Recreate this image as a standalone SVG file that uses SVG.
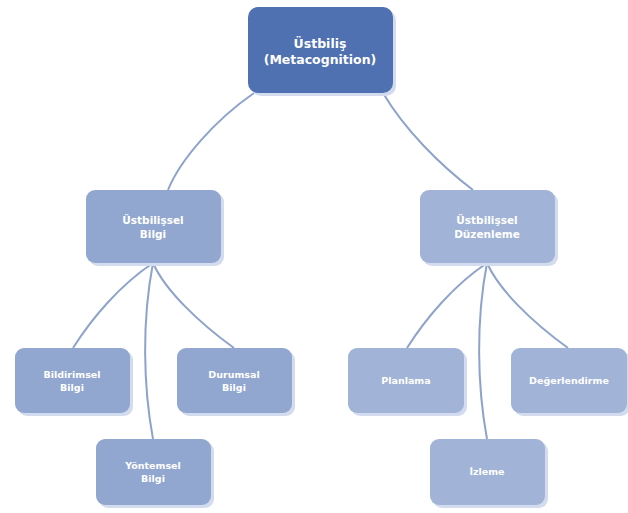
<svg xmlns="http://www.w3.org/2000/svg" width="628" height="513" viewBox="0 0 628 513">
<defs>
<style>
.sh{fill:#D3DCEF}
.root{fill:#4F70B1}
.l{fill:#92A7CF}
.r{fill:#A1B3D6}
.t{fill:#FFFFFF;font-family:"DejaVu Sans",sans-serif;font-weight:bold;text-anchor:middle}
.t1{font-size:12.5px}
.t2{font-size:10.5px}
.t3{font-size:9.5px}
.c{fill:none;stroke:#8EA3CC;stroke-width:2}
</style>
</defs>
<rect width="628" height="513" fill="#FFFFFF"/>
<g id="connectors">
<path class="c" d="M254,93 C215,120 180,160 168,190"/>
<path class="c" d="M383,93 C405,130 440,165 473,190"/>
<path class="c" d="M153,263 C120,285 92,318 73,348"/>
<path class="c" d="M153,263 C165,290 198,322 234,348"/>
<path class="c" d="M153,263 C142,320 143,385 153,439"/>
<path class="c" d="M487,263 C454,285 426,318 407,348"/>
<path class="c" d="M487,263 C499,290 532,322 568,348"/>
<path class="c" d="M487,263 C476,320 477,385 487,439"/>
</g>
<g id="root">
<rect class="sh" x="251" y="10" width="145" height="86" rx="10"/>
<rect class="root" x="248" y="7" width="145" height="86" rx="10"/>
<text class="t t1" x="320" y="48">Üstbiliş</text>
<text class="t t1" x="320" y="64">(Metacognition)</text>
</g>
<g id="ustbilissel-bilgi">
<rect class="sh" x="89" y="193" width="135" height="73" rx="9"/>
<rect class="l" x="86" y="190" width="135" height="73" rx="9"/>
<text class="t t2" x="153" y="224">Üstbilişsel</text>
<text class="t t2" x="153" y="238">Bilgi</text>
</g>
<g id="ustbilissel-duzenleme">
<rect class="sh" x="423" y="193" width="135" height="73" rx="9"/>
<rect class="r" x="420" y="190" width="135" height="73" rx="9"/>
<text class="t t2" x="487" y="224">Üstbilişsel</text>
<text class="t t2" x="487" y="238">Düzenleme</text>
</g>
<g id="bildirimsel">
<rect class="sh" x="18" y="351" width="115" height="65" rx="9"/>
<rect class="l" x="15" y="348" width="115" height="65" rx="9"/>
<text class="t t3" x="72" y="378">Bildirimsel</text>
<text class="t t3" x="72" y="391">Bilgi</text>
</g>
<g id="durumsal">
<rect class="sh" x="180" y="351" width="115" height="65" rx="9"/>
<rect class="l" x="177" y="348" width="115" height="65" rx="9"/>
<text class="t t3" x="234" y="378">Durumsal</text>
<text class="t t3" x="234" y="391">Bilgi</text>
</g>
<g id="yontemsel">
<rect class="sh" x="99" y="442" width="115" height="66" rx="9"/>
<rect class="l" x="96" y="439" width="115" height="66" rx="9"/>
<text class="t t3" x="153" y="469">Yöntemsel</text>
<text class="t t3" x="153" y="482">Bilgi</text>
</g>
<g id="planlama">
<rect class="sh" x="351" y="351" width="116" height="65" rx="9"/>
<rect class="r" x="348" y="348" width="116" height="65" rx="9"/>
<text class="t t3" x="406" y="384">Planlama</text>
</g>
<g id="degerlendirme">
<rect class="sh" x="514" y="351" width="116" height="65" rx="9"/>
<rect class="r" x="511" y="348" width="116" height="65" rx="9"/>
<text class="t t3" x="569" y="384">Değerlendirme</text>
</g>
<g id="izleme">
<rect class="sh" x="433" y="442" width="115" height="66" rx="9"/>
<rect class="r" x="430" y="439" width="115" height="66" rx="9"/>
<text class="t t3" x="487" y="475">İzleme</text>
</g>
</svg>
